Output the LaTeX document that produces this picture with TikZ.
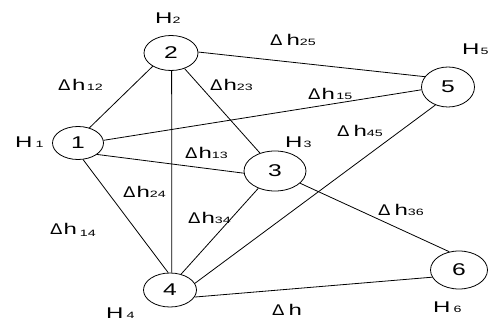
\documentclass[tikz,border=0pt]{standalone}
\usepackage{fontspec}
\setmainfont{Liberation Sans}
\newfontfamily\labfont[FakeStretch=1.55]{Liberation Sans}
\newfontfamily\delfont[FakeStretch=1.2]{Liberation Sans}
\newfontfamily\numfont[FakeStretch=1.45]{Liberation Sans}
\usetikzlibrary{shapes.geometric}
\newcommand{\Dl}{{\delfont\fontsize{15.5}{15.5}\selectfont Δ}}
\newcommand{\Hh}[1]{{\labfont\fontsize{15.5}{15.5}\selectfont #1}}
\newcommand{\Sb}[1]{{\labfont\fontsize{9.2}{9.2}\selectfont #1}}
\begin{document}
\begin{tikzpicture}[x=1pt,y=-1pt,
  vert/.style={ellipse,draw,line width=0.8pt,inner sep=0pt,font=\numfont\fontsize{17}{17}\selectfont},
  edge/.style={line width=0.8pt},
  lab/.style={anchor=base west,inner sep=0pt,text=black}]
\useasboundingbox (0,0) rectangle (489,323);
% vertices
\node[vert,minimum width=51pt,minimum height=33pt] (n1) at (78,143) {1};
\node[vert,minimum width=54pt,minimum height=35pt] (n2) at (171,53) {2};
\node[vert,minimum width=62pt,minimum height=40pt] (n3) at (275,171) {3};
\node[vert,minimum width=53pt,minimum height=34pt] (n4) at (170,290) {4};
\node[vert,minimum width=53pt,minimum height=40pt] (n5) at (448,87) {5};
\node[vert,minimum width=57pt,minimum height=38pt] (n6) at (459,270) {6};
% edges
\draw[edge] (n1.53) -- (n2.-144);
\draw[edge] (n1.6) -- (n5.186);
\draw[edge] (n1.-31) -- (n3.184);
\draw[edge] (n1.-73) -- (n4.96);
\draw[edge] (n2.2) -- (n5.156);
\draw[edge] (n2.-49) -- (n3.130);
\draw[edge] (n2.-88) -- (n4.84);
\draw[edge] (n3.226) -- (n4.55);
\draw[edge] (n3.-26) -- (n6.118);
\draw[edge] (n4.15) -- (n5.235);
\draw[edge] (n4.-16) -- (n6.195);
% labels
\node[lab] (h2) at (155,24) {\Hh{H}\Sb{2}};
\node[lab] (h1) at (15,147) {\Hh{H}\hspace{3pt}\Sb{1}};
\node[lab] (h3) at (285,147) {\Hh{H}\hspace{1pt}\Sb{3}};
\node[lab] (h4) at (106,318) {\Hh{H}\hspace{3pt}\Sb{4}};
\node[lab] (h5) at (462,55) {\Hh{H}\hspace{1pt}\Sb{5}};
\node[lab] (h6) at (433,312) {\Hh{H}\hspace{3pt}\Sb{6}};
\node[lab] (d12) at (58,91) {\Dl\hspace{1.5pt}\Hh{h}\hspace{1.5pt}\Sb{12}};
\node[lab] (d23) at (210,91) {\Dl\hspace{1pt}\Hh{h}\Sb{23}};
\node[lab] (d13) at (185,158) {\Dl\hspace{1pt}\Hh{h}\Sb{13}};
\node[lab] (d25) at (270,46) {\Dl\hspace{4pt}\Hh{h}\Sb{25}};
\node[lab] (d15) at (308,100) {\Dl\hspace{1pt}\Hh{h}\hspace{1.5pt}\Sb{15}};
\node[lab] (d45) at (337,137) {\Dl\hspace{4pt}\Hh{h}\Sb{45}};
\node[lab] (d24) at (123,197) {\Dl\hspace{1pt}\Hh{h}\Sb{24}};
\node[lab] (d34) at (188,223) {\Dl\hspace{1pt}\Hh{h}\Sb{34}};
\node[lab] (d14) at (50,234) {\Dl\hspace{1pt}\Hh{h}\hspace{3pt}\raisebox{-2pt}{\Sb{14}}};
\node[lab] (d36) at (378,215) {\Dl\hspace{4pt}\Hh{h}\Sb{36}};
\node[lab] (d46) at (272,315) {\Dl\hspace{4pt}\Hh{h}};
\end{tikzpicture}
\end{document}
